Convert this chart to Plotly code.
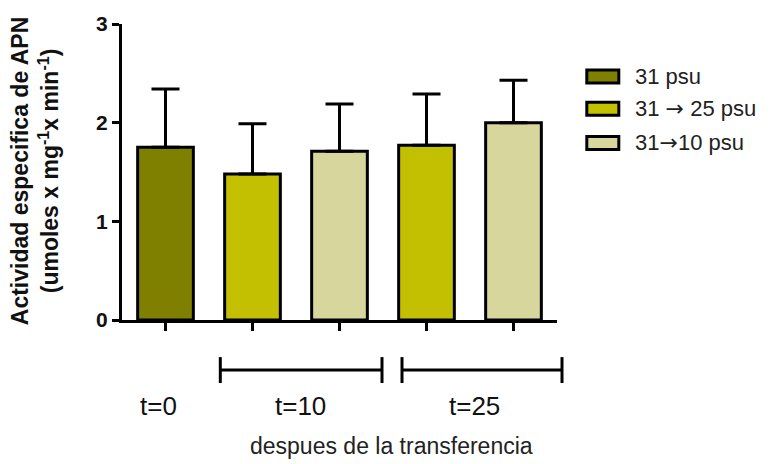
import plotly.graph_objects as go

# Specific APN activity per treatment (mean and upper SEM)
series = ["31 psu", "31 \u2192 25 psu", "31\u219210 psu"]
colors = ["#808000", "#c2c000", "#d7d69c"]
bar_series = [0, 1, 2, 1, 2]          # which series each bar belongs to
bar_pos = [0, 1, 2, 3, 4]
bar_mean = [1.75, 1.48, 1.71, 1.77, 2.00]
bar_err = [0.59, 0.51, 0.48, 0.52, 0.43]
y_ticks = [0, 1, 2, 3]
group_labels = ["t=0", "t=10", "t=25"]

W, H = 775, 464
L, R, T, B = 121.7, 556.7, 23.7, 320.5
ARROW_FONT = "DejaVu Sans"


def px(xp):
    return (xp - L) / (R - L)


def py(yp):
    return (B - yp) / (B - T)


def with_arrow_font(text):
    return text.replace("\u2192", f'<span style="font-family:{ARROW_FONT}">\u2192</span>')


fig = go.Figure()
for s, (name, col) in enumerate(zip(series, colors)):
    idx = [i for i, k in enumerate(bar_series) if k == s]
    fig.add_trace(go.Bar(
        x=[bar_pos[i] for i in idx],
        y=[bar_mean[i] for i in idx],
        name=name,
        width=0.64,
        marker=dict(color=col, line=dict(color="black", width=3)),
        error_y=dict(type="data", symmetric=False,
                     array=[bar_err[i] for i in idx],
                     arrayminus=[0] * len(idx),
                     color="black", thickness=3, width=14),
        showlegend=False,
    ))

fig.update_layout(
    width=W, height=H,
    margin=dict(l=L, r=W - R, t=T, b=H - B),
    plot_bgcolor="white", paper_bgcolor="white",
    font=dict(family="Arial, Liberation Sans", color="#222222"),
    xaxis=dict(range=[-0.5, 4.5], showgrid=False, zeroline=False,
               showline=True, linecolor="black", linewidth=3,
               ticks="outside", ticklen=8, tickwidth=3, tickcolor="black",
               tickvals=bar_pos, showticklabels=False),
    yaxis=dict(range=[0, 3], showgrid=False, zeroline=False,
               showline=True, linecolor="black", linewidth=3,
               ticks="outside", ticklen=7, tickwidth=3, tickcolor="black",
               tickvals=y_ticks,
               tickfont=dict(size=21, weight=700, color="#111111")),
)

# Y-axis title
fig.add_annotation(
    xref="paper", yref="paper", x=px(35), y=py(171),
    text="<b>Actividad especifica de APN<br>(umoles x mg<sup>-1</sup>x min<sup>-1</sup>)</b>",
    textangle=-90, showarrow=False, font=dict(size=23, color="#111111"),
    xanchor="center", yanchor="middle",
)

# Legend
box_tops = [68.3, 100.7, 135.0]
for s, (name, col) in enumerate(zip(series, colors)):
    y0 = box_tops[s]
    fig.add_shape(type="rect", xref="paper", yref="paper",
                  x0=px(586.5), x1=px(618.5), y0=py(y0 + 1.5), y1=py(y0 + 14.5),
                  fillcolor=col, line=dict(color="black", width=3))
    fig.add_annotation(xref="paper", yref="paper", x=px(633), y=py(y0 + 8),
                       text=with_arrow_font(name), showarrow=False,
                       xanchor="left", yanchor="middle",
                       font=dict(size=22, color="#222222"))

# Time-group brackets under the bars (pixel extents)
brackets = [(220, 381.7), (401.7, 561.7)]
yb = py(370.7)
cap = 13 / (B - T)
for x0, x1 in brackets:
    fig.add_shape(type="line", xref="paper", yref="paper",
                  x0=px(x0), x1=px(x1), y0=yb, y1=yb,
                  line=dict(color="black", width=3))
    for xc in (x0, x1):
        fig.add_shape(type="line", xref="paper", yref="paper",
                      x0=px(xc), x1=px(xc), y0=yb - cap, y1=yb + cap,
                      line=dict(color="black", width=3))

group_x = [158.5, 300, 474.5]
for lab, gx in zip(group_labels, group_x):
    fig.add_annotation(xref="paper", yref="paper", x=px(gx), y=py(406.5),
                       text=lab, showarrow=False, xanchor="center", yanchor="middle",
                       font=dict(size=26, color="#111111"))

fig.add_annotation(xref="paper", yref="paper", x=px(391.5), y=py(446.5),
                   text="despues de la transferencia", showarrow=False,
                   xanchor="center", yanchor="middle",
                   font=dict(size=23, color="#222222"))

fig.write_html("out.html")
